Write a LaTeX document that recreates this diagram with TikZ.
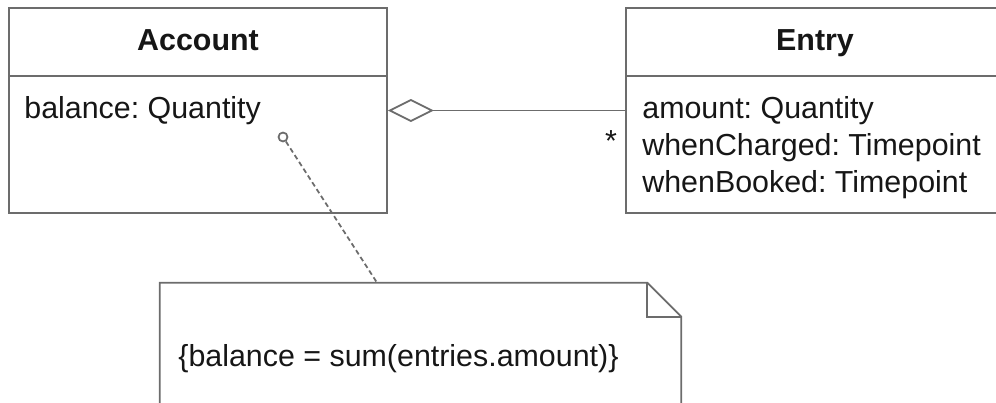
\documentclass[tikz,border=0pt]{standalone}
\usepackage{fontspec}
\setmainfont{Liberation Sans}
\frenchspacing
\usetikzlibrary{arrows.meta,positioning}
\definecolor{LineInk}{HTML}{6C6C6C}
\definecolor{TextInk}{HTML}{161616}
\tikzset{
  uml/.style={font=\fontsize{17.3}{21}\selectfont,text=TextInk,x=0.02cm,y=-0.02cm},
  classbox/.style={draw=LineInk,line width=1pt,minimum width=7.56cm,minimum height=4.1cm,inner sep=0pt},
  classname/.style={font=\fontsize{17.3}{21}\selectfont\bfseries,inner sep=0pt,anchor=base},
  attrs/.style={align=left,inner sep=0pt,anchor=base west},
  link/.style={draw=LineInk,line width=1pt},
  aggr/.style={link,{Diamond[open,length=0.92cm,width=0.46cm]}-},
  anchorline/.style={draw=LineInk,line width=1pt,dash pattern=on 2.8pt off 1.8pt},
}

\begin{document}
\begin{tikzpicture}[uml]
  \useasboundingbox (0,0) rectangle (996,402);

  % classes
  \node[classbox] (account) at (198,110.5) {};
  \draw[link] ([yshift=-1.38cm]account.north west) -- ([yshift=-1.38cm]account.north east);
  \node[classname] (accountname) at (198,51) {Account};
  \node[attrs] (accountattr) at (24,118) {balance: Quantity};

  \node[classbox] (entry) at (815,110.5) {};
  \draw[link] ([yshift=-1.38cm]entry.north west) -- ([yshift=-1.38cm]entry.north east);
  \node[classname] (entryname) at (815,51) {Entry};
  % base anchor sits on the last line
  \node[attrs] (entryattr) at (642,192)
    {amount: Quantity\\whenCharged: Timepoint\\whenBooked: Timepoint};

  % association
  \draw[aggr] (account) -- (entry);
  \node[inner sep=0pt] (mult) at (611,141) {*};

  % constraint note
  \node[minimum width=10.42cm,minimum height=3.54cm,inner sep=0pt] (note) at (420.5,371.5) {};
  \draw[link] (note.south west) -- (note.north west) -- ([xshift=-0.68cm]note.north east)
    -- ([yshift=-0.68cm]note.north east) -- (note.south east);
  \draw[link] ([xshift=-0.68cm]note.north east) |- ([yshift=-0.68cm]note.north east);
  \node[attrs] (notetext) at (178,366) {\{balance = sum(entries.amount)\}};

  \node[circle,draw=LineInk,line width=1pt,fill=white,inner sep=0pt,minimum size=0.18cm] (attach) at (283,137) {};
  \draw[anchorline] (attach) -- ([xshift=-0.87cm]note.north);
\end{tikzpicture}
\end{document}
